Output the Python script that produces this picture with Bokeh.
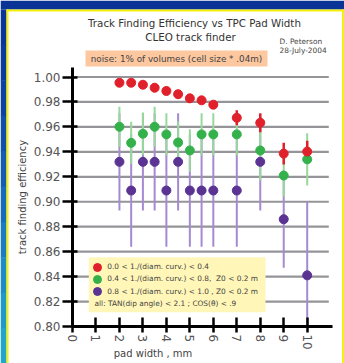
from math import pi
from bokeh.plotting import figure
from bokeh.models import (BoxAnnotation, Label, Legend, LegendItem, FixedTicker,
                          NumeralTickFormatter, Range1d, ColumnDataSource)
from bokeh.embed import file_html
from bokeh.resources import INLINE

# ---- data ----
pad_width = [2, 2.5, 3, 3.5, 4, 4.5, 5, 5.5, 6, 7, 8, 9, 10]
eff_low = [0.9954, 0.9954, 0.9938, 0.9914, 0.9888, 0.9862, 0.9829, 0.9813, 0.9778, 0.9673, 0.9633, 0.9386, 0.9402]
err_low = [0.001, 0.001, 0.001, 0.001, 0.0012, 0.0015, 0.0018, 0.002, 0.0025, 0.006, 0.0075, 0.0087, 0.0087]
eff_mid = [0.9601, 0.9472, 0.9545, 0.9601, 0.9540, 0.9475, 0.9411, 0.9540, 0.9540, 0.9540, 0.9411, 0.9210, 0.9340]
err_mid = [0.016, 0.017, 0.017, 0.016, 0.017, 0.017, 0.017, 0.017, 0.017, 0.017, 0.024, 0.017, 0.021]
eff_high = [0.932, 0.909, 0.932, 0.932, 0.909, 0.932, 0.909, 0.909, 0.909, 0.909, 0.932, 0.886, 0.841]
err_high = [0.039, 0.045, 0.039, 0.039, 0.045, 0.039, 0.045, 0.045, 0.045, 0.045, 0.039, 0.039, 0.059]
y_ticks = [0.80, 0.82, 0.84, 0.86, 0.88, 0.90, 0.92, 0.94, 0.96, 0.98, 1.00]
x_ticks = [0, 1, 2, 3, 4, 5, 6, 7, 8, 9, 10]
series_labels = ["0.0 < 1./(diam. curv.) < 0.4",
                 "0.4 < 1./(diam. curv.) < 0.8,  Z0 < 0.2 m",
                 "0.8 < 1./(diam. curv.) < 1.0 , Z0 < 0.2 m"]
cut_note = "all:   TAN(dip angle) < 2.1 ; COS(\u03b8) < .9"
X_AXIS_END, Y_AXIS_END, GRID_END = 11.08, 1.0075, 10.92

y_floor = y_ticks[0]
src = ColumnDataSource(dict(
    x=pad_width,
    r=eff_low, r_lo=[v - e for v, e in zip(eff_low, err_low)], r_hi=[v + e for v, e in zip(eff_low, err_low)],
    g=eff_mid, g_lo=[v - e for v, e in zip(eff_mid, err_mid)], g_hi=[v + e for v, e in zip(eff_mid, err_mid)],
    b=eff_high, b_lo=[max(v - e, y_floor) for v, e in zip(eff_high, err_high)],
    b_hi=[v + e for v, e in zip(eff_high, err_high)],
))

FONT = "DejaVu Sans"
RED, GREEN, PURPLE = "#e0202a", "#35b14b", "#5a3393"
W, H = 344, 363
X0PX, Y0PX = 72, 326          # canvas pixel of (0, 0.80)
XS, YS = 23.47, 1247.5        # pixels per data unit

p = figure(width=W, height=H, output_backend="svg", toolbar_location=None,
           x_range=Range1d(-X0PX / XS, (W - X0PX) / XS),
           y_range=Range1d(y_floor - (H - Y0PX) / YS, y_floor + Y0PX / YS),
           min_border=0)
p.border_fill_color = "white"
p.background_fill_color = "white"
p.outline_line_color = None
p.xgrid.visible = False
p.ygrid.visible = False

for ax in (p.xaxis[0], p.yaxis[0]):
    ax.axis_line_width = 3
    ax.axis_line_color = "black"
    ax.major_tick_line_width = 2.5
    ax.major_tick_line_color = "black"
    ax.minor_tick_line_color = None
    ax.major_label_text_font = FONT
    ax.major_label_text_font_size = "12px"
    ax.major_label_text_color = "#555555"
p.yaxis.ticker = FixedTicker(ticks=y_ticks)
p.yaxis.formatter = NumeralTickFormatter(format="0.00")
p.yaxis.major_tick_out = 10
p.yaxis.major_tick_in = 5
p.yaxis.major_label_standoff = 2
p.yaxis.fixed_location = 0
p.yaxis.bounds = (y_floor, Y_AXIS_END)
p.xaxis.ticker = FixedTicker(ticks=x_ticks)
p.xaxis.major_label_orientation = "vertical"
p.xaxis.major_tick_out = 6
p.xaxis.major_tick_in = 9
p.xaxis.major_label_standoff = 2
p.xaxis.fixed_location = y_floor
p.xaxis.bounds = (0, X_AXIS_END)


def sbox(l, r, t, b, color, level="underlay", alpha=1.0):
    # canvas pixel edges -> screen units (frame == canvas, y up from bottom)
    p.add_layout(BoxAnnotation(left=l, right=r, top=H - t, bottom=H - b,
                               left_units="screen", right_units="screen",
                               top_units="screen", bottom_units="screen",
                               fill_color=color, fill_alpha=alpha, line_color=None, level=level))


def stext(x, y, text, size, align="left", color="#444444", angle=0):
    p.add_layout(Label(x=x, y=H - y, x_units="screen", y_units="screen", text=text, angle=angle,
                       text_font=FONT, text_font_size=size, text_color=color,
                       text_align=align, text_baseline="middle"))


# blue surround with gradient on the left edge, yellow frame line
sbox(0, W, 0, 9, "#0a3596")
left_strip = ["#0a3596", "#0b3a9a", "#0d43a0", "#104fa8", "#135db0", "#166cb8", "#1a7cbf", "#1d8cc4", "#1f9ac8", "#21a5ca"]
step = (H - 9) / len(left_strip)
for i, c in enumerate(left_strip):
    sbox(0, 6, 9 + i * step, 9 + (i + 1) * step + 0.5, c)
sbox(6, W, 9, 11, "#f5f20a")
sbox(6, 8, 9, H, "#f5f20a")
sbox(341.5, 343.5, 9, H, "#f5f20a")

# horizontal grid lines at the y ticks (2 px boxes in data coordinates)
half = 1.1 / YS
for yt in y_ticks[1:]:
    p.add_layout(BoxAnnotation(left=0, right=GRID_END, bottom=yt - half, top=yt + half,
                               fill_color="#14141c", fill_alpha=0.45, line_color=None, level="underlay"))

p.segment(x0="x", y0="b_lo", x1="x", y1="b_hi", source=src, line_color="#a58ad2", line_width=2)
p.segment(x0="x", y0="g_lo", x1="x", y1="g_hi", source=src, line_color="#98d89b", line_width=2)
p.segment(x0="x", y0="r_lo", x1="x", y1="r_hi", source=src, line_color=RED, line_width=2.5)
rb = p.scatter(x="x", y="b", source=src, size=9, fill_color=PURPLE, line_color=PURPLE)
rg = p.scatter(x="x", y="g", source=src, size=9, fill_color=GREEN, line_color=GREEN)
rr = p.scatter(x="x", y="r", source=src, size=9, fill_color=RED, line_color=RED)

# legend box and one single-item legend per row
sbox(88.3, 265, 256.7, 311.7, "#fff6b8", level="annotation")
for i, (lab, rend) in enumerate(zip(series_labels, [rr, rg, rb])):
    cy = 266.7 + i * 12.2
    p.add_layout(Legend(items=[LegendItem(label=lab, renderers=[rend])],
                        location=(87.3, H - cy - 10), padding=0, spacing=0, margin=0,
                        glyph_width=20, glyph_height=20, label_height=10, label_standoff=0,
                        label_text_font=FONT, label_text_font_size="7.4px", label_text_color="#444444",
                        background_fill_alpha=0, border_line_color=None))
stext(94, 303.3, cut_note, "7.4px")

stext(194, 22, "Track Finding Efficiency vs TPC Pad Width", "10.3px", "center", "#333333")
stext(190, 36, "CLEO track finder", "10.3px", "center", "#333333")
stext(279, 40.5, "D. Peterson", "7.4px")
stext(279, 49.5, "28-July-2004", "7.4px")
sbox(85, 267, 50, 66, "#fdc7a0", level="annotation")
stext(176, 58.5, "noise: 1% of volumes (cell size * .04m)", "8.8px", "center")
stext(152.5, 353, "pad width , mm", "10px", "center")
stext(22, 196.5, "track finding efficiency", "10px", "center", angle=pi / 2)

open("out.html", "w").write(file_html(p, INLINE))
